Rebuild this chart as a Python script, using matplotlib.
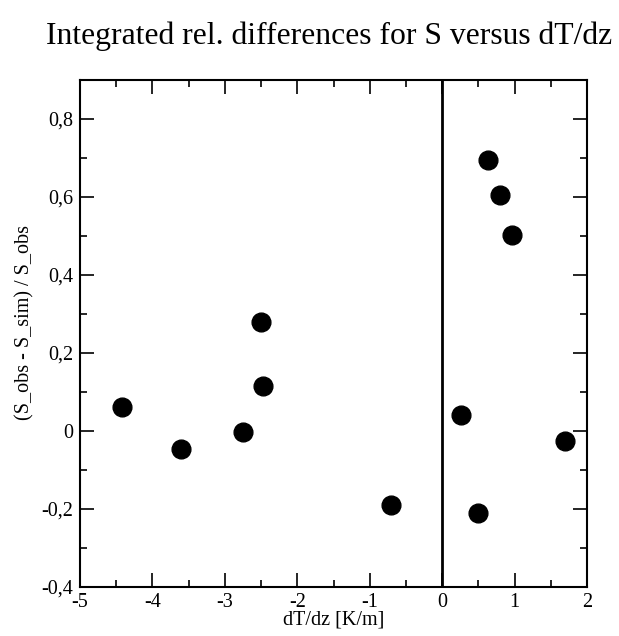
import matplotlib
matplotlib.use("Agg")
import matplotlib.pyplot as plt
from matplotlib.ticker import MultipleLocator, FuncFormatter

plt.rcParams['font.family'] = ['Liberation Serif', 'DejaVu Serif']

# gradient dT/dz [K/m] and relative difference (S_obs - S_sim) / S_obs
dtdz = [-4.42, -3.60, -2.75, -2.50, -2.47, -0.70, 0.26, 0.50, 0.63, 0.80, 0.96, 1.70]
rel_diff = [0.061, -0.046, -0.003, 0.279, 0.116, -0.191, 0.042, -0.209, 0.695, 0.605, 0.503, -0.026]

title = 'Integrated rel. differences for S versus dT/dz'
xlabel = 'dT/dz [K/m]'
ylabel = '(S_obs - S_sim) / S_obs'


def comma_fmt(v, pos):
    if abs(v) < 1e-9:
        return '0'
    return ('%g' % round(v, 2)).replace('.', ',')


fig = plt.figure(figsize=(6.19, 6.36), dpi=100)
ax = fig.add_axes([80 / 619, 49 / 636, 507 / 619, 507 / 636])

ax.axvline(0, color='black', lw=2, zorder=1)
ax.plot(dtdz, rel_diff, 'o', color='black', markersize=13.5, zorder=3)

ax.set_xlim(-5, 2)
ax.set_ylim(-0.4, 0.9)
ax.xaxis.set_major_locator(MultipleLocator(1))
ax.xaxis.set_minor_locator(MultipleLocator(0.5))
ax.yaxis.set_major_locator(MultipleLocator(0.2))
ax.yaxis.set_minor_locator(MultipleLocator(0.1))
ax.yaxis.set_major_formatter(FuncFormatter(comma_fmt))
ax.xaxis.set_major_formatter(FuncFormatter(lambda v, p: '%d' % round(v)))

ax.tick_params(which='both', direction='in', top=True, right=True, width=1.2, labelsize=14.5)
ax.tick_params(which='major', length=10, pad=5)
ax.tick_params(axis='x', which='major', pad=4)
ax.tick_params(which='minor', length=5)
for s in ax.spines.values():
    s.set_linewidth(1.5)

ax.set_xlabel(xlabel, fontsize=14.5)
ax.xaxis.set_label_coords(0.5, -0.046)
ax.set_ylabel(ylabel, fontsize=14.5)
ax.yaxis.set_label_coords(-0.09, 0.522)
fig.text(0.532, 0.943, title, fontsize=22.8, ha='center', va='center')

fig.savefig('out.png', dpi=100)
